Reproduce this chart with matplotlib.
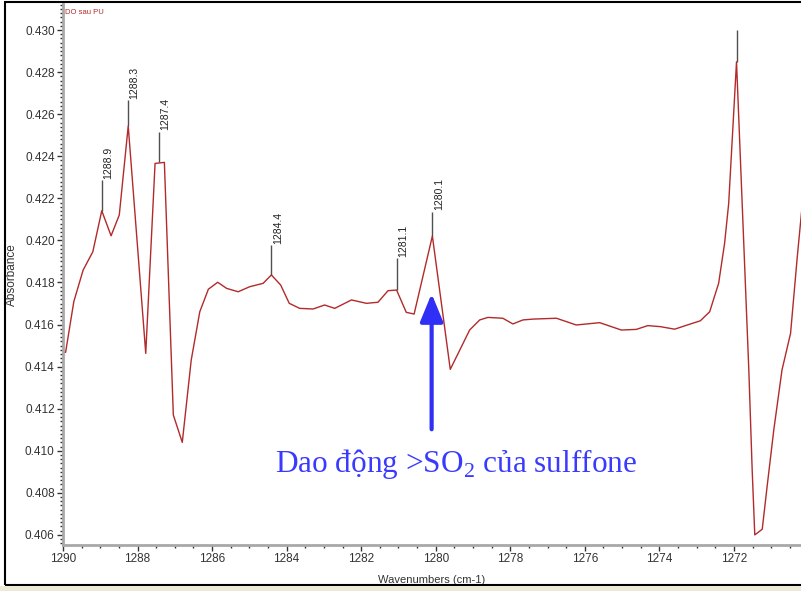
import numpy as np
import matplotlib
matplotlib.use('Agg')
from matplotlib import pyplot as plt
from matplotlib.patches import Rectangle
from matplotlib.ticker import MultipleLocator, FormatStrFormatter

# spectrum (wavenumber, absorbance)
wavenumbers = [1290.00, 1289.93, 1289.71, 1289.46, 1289.20, 1288.96, 1288.71, 1288.49,
               1288.25, 1287.78, 1287.53, 1287.28, 1287.04, 1286.80, 1286.56, 1286.33,
               1286.10, 1285.85, 1285.61, 1285.30, 1284.99, 1284.63, 1284.41, 1284.16,
               1283.93, 1283.65, 1283.29, 1282.98, 1282.71, 1282.26, 1281.86, 1281.55,
               1281.28, 1281.05, 1280.79, 1280.58, 1280.09, 1279.61, 1279.09, 1278.82,
               1278.60, 1278.20, 1277.93, 1277.66, 1277.39, 1276.76, 1276.23, 1275.60,
               1275.02, 1274.62, 1274.31, 1273.97, 1273.59, 1273.25, 1272.90, 1272.65,
               1272.41, 1272.25, 1272.14, 1271.93, 1271.60, 1271.51, 1271.44, 1271.24,
               1271.11, 1270.93, 1270.71, 1270.48, 1270.30, 1270.15]
absorbance = [0.41468, 0.41468, 0.41709, 0.41859, 0.41946, 0.42141, 0.42022, 0.42121,
              0.42544, 0.41463, 0.42366, 0.42371, 0.41170, 0.41040, 0.41431, 0.41661,
              0.41768, 0.41801, 0.41772, 0.41756, 0.41780, 0.41796, 0.41836, 0.41788,
              0.41701, 0.41677, 0.41674, 0.41693, 0.41677, 0.41717, 0.41701, 0.41706,
              0.41761, 0.41764, 0.41658, 0.41650, 0.42021, 0.41387, 0.41574, 0.41622,
              0.41634, 0.41630, 0.41603, 0.41622, 0.41626, 0.41630, 0.41598, 0.41609,
              0.41574, 0.41577, 0.41595, 0.41590, 0.41578, 0.41598, 0.41618, 0.41661,
              0.41796, 0.41986, 0.42176, 0.42849, 0.41384, 0.40909, 0.40600, 0.40627,
              0.40829, 0.41099, 0.41384, 0.41558, 0.41922, 0.42200]

# peak picks
peak_pos = [1288.96, 1288.25, 1287.42, 1284.41, 1281.05, 1280.09, 1271.93]
peak_val = [0.42141, 0.42544, 0.42371, 0.41836, 0.41764, 0.42021, 0.42849]
peak_top = [0.42287, 0.42667, 0.42517, 0.41978, 0.41915, 0.42136, 0.43000]
peak_labels = ['1288.9', '1288.3', '1287.4', '1284.4', '1281.1', '1280.1', '']

plt.rcParams['font.family'] = ['Liberation Sans', 'DejaVu Sans']
plt.rcParams['mathtext.fontset'] = 'custom'
plt.rcParams['mathtext.rm'] = 'Liberation Serif'

fig = plt.figure(figsize=(8.01, 5.91), dpi=100)
ax = fig.add_axes([63 / 801, 1 - 545 / 591, 1 - 63 / 801, (545 - 4) / 591])

ax.plot(wavenumbers, absorbance, color='#b22a2a', lw=1.0)
ax.vlines(peak_pos, peak_val, peak_top, color='#505050', lw=1.0)
for x, top, lab in zip(peak_pos, peak_top, peak_labels):
    if lab:
        ax.annotate(lab, (x, top), xytext=(1, 1), textcoords='offset points',
                    rotation=90, ha='left', va='bottom', fontsize=7.5, color='#222222')

ax.set_xlim(1290, 1270.2)
ax.set_ylim(0.40552, 0.43124)

ax.xaxis.set_major_locator(MultipleLocator(2))
ax.xaxis.set_minor_locator(MultipleLocator(0.5))
ax.yaxis.set_major_locator(MultipleLocator(0.002))
ax.yaxis.set_minor_locator(MultipleLocator(0.0002))
ax.yaxis.set_major_formatter(FormatStrFormatter('%.3f'))

for s in ['top', 'right']:
    ax.spines[s].set_visible(False)
for s in ['left', 'bottom']:
    ax.spines[s].set_color('#a8a8a8')
    ax.spines[s].set_linewidth(2)
ax.tick_params(which='major', length=4, width=1, color='#333333', labelsize=8.5,
               labelcolor='#333333', pad=2)
ax.tick_params(which='minor', length=2, width=1, color='#333333')

ax.set_xlabel('Wavenumbers (cm-1)', fontsize=8, color='#333333', labelpad=7)
ax.set_ylabel('Absorbance', fontsize=8.5, color='#333333', labelpad=5)

ax.text(1289.95, 0.43085, 'DO sau PU', fontsize=5.5, color='#b22a2a', va='center')

# annotation
ax.annotate('', xy=(1280.11, 0.41760), xytext=(1280.11, 0.41089),
            arrowprops=dict(arrowstyle='-|>,head_length=0.85,head_width=0.35',
                            mutation_scale=20, lw=3, color='#2f2ff5'))
ax.text(1279.46, 0.40899, 'Dao động >SO$_2$ của sulffone', fontsize=22.5,
        family='Liberation Serif', color='#3a3aff', ha='center', va='baseline')

# screenshot frame
fig.patches.append(Rectangle((5 / 801, 6 / 591), 1.0, 583 / 591, transform=fig.transFigure,
                             fill=False, edgecolor='black', lw=1.5))
fig.patches.append(Rectangle((0, 0), 1, 5 / 591, transform=fig.transFigure,
                             facecolor='#ece9d8', edgecolor='none'))

fig.savefig('out.png', dpi=100)
